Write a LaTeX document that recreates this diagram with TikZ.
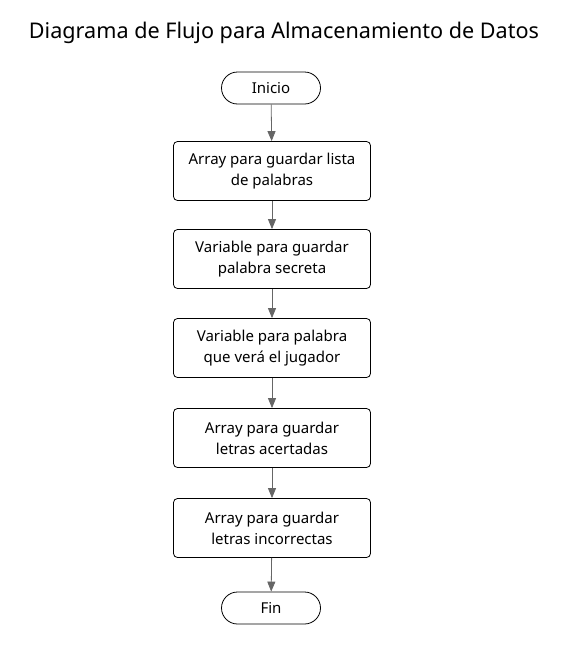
\documentclass[tikz,border=0pt]{standalone}
\usepackage{fontspec}
\setmainfont{Noto Sans}
\usetikzlibrary{arrows.meta}
\begin{document}
\begin{tikzpicture}[x=1pt,y=-1pt,
    box/.style={draw,thick,rounded corners=4pt,minimum width=197pt,minimum height=59pt,align=center,font=\fontsize{15}{21}\selectfont},
    term/.style={draw,thick,rounded corners=16pt,minimum width=99pt,minimum height=32pt,font=\fontsize{15}{18}\selectfont},
    flow/.style={draw=black!60,thick,-{Triangle[length=10pt,width=8pt]}}]
      \useasboundingbox (0,0) rectangle (567,659);
      \draw
        (284,33) node (title){\fontsize{21.6}{24}\selectfont Diagrama de Flujo para Almacenamiento de Datos}
        (271,88) node[term] (inicio){Inicio}
        (272,171) node[box] (1){Array para guardar lista\\de palabras}
        (272,259) node[box] (2){Variable para guardar\\palabra secreta}
        (272,348) node[box] (3){Variable para palabra\\que verá el jugador}
        (272,438) node[box] (4){Array para guardar\\letras acertadas}
        (272,528) node[box] (5){Array para guardar\\letras incorrectas}
        (271,608) node[term] (fin){Fin};
      \begin{scope}[flow]
        \draw (inicio) to (1);
        \draw (1) to (2);
        \draw (2) to (3);
        \draw (3) to (4);
        \draw (4) to (5);
        \draw (5) to (fin);
      \end{scope}
    \end{tikzpicture}
\end{document}
